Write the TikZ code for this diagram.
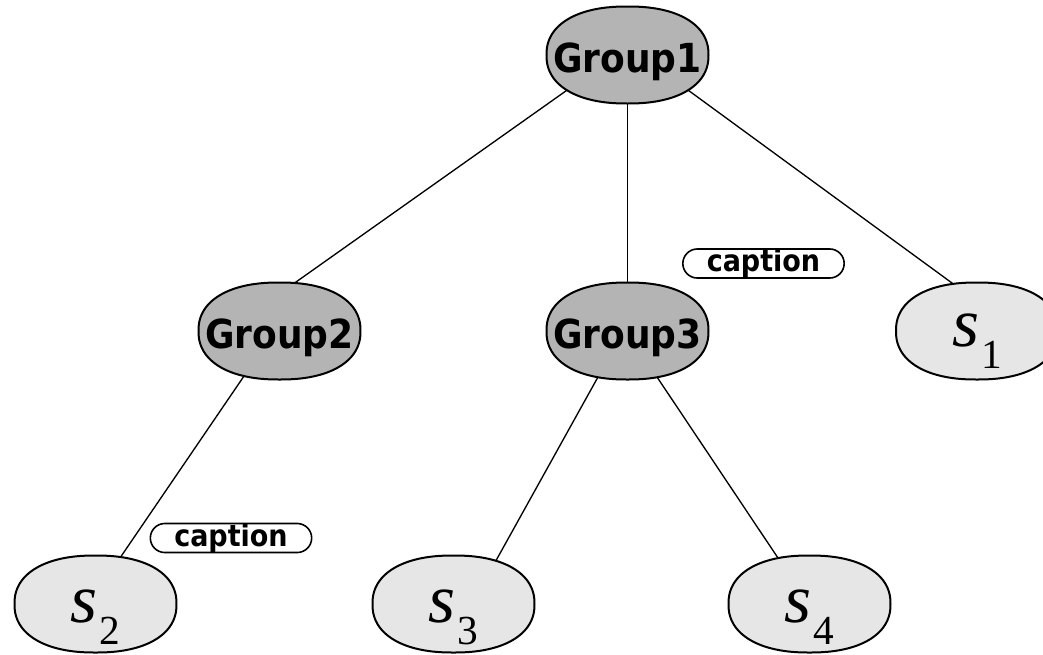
\documentclass[tikz,border=0pt]{standalone}
\usepackage{fontspec}
\setmainfont{Liberation Serif}
\newfontfamily\labelfont{DejaVu Sans Condensed}
\usetikzlibrary{shapes.geometric,shapes.misc}

\definecolor{groupgray}{RGB}{180,180,180}
\definecolor{leafgray}{RGB}{230,230,230}

% rounded (slightly super-elliptic) body drawn around a named node
\newcommand\blobshape[2]{%
  \filldraw[blobline, fill=#2, shift={(#1.center)}]
    plot[smooth cycle, domain=2.5:357.5, samples=72]
    ({81*sign(cos(\x))*abs(cos(\x))^0.88}, {48.5*sign(sin(\x))*abs(sin(\x))^0.88});}

% italic s with a lowered upright index
\newcommand\leaflabel[1]{%
  {\fontsize{52}{52}\selectfont\itshape s}\kern1.5pt%
  \raisebox{-16.5pt}{\fontsize{31}{31}\selectfont #1}}

\begin{document}
\begin{tikzpicture}[x=0.75pt, y=-0.75pt,
  every node/.style={inner sep=0pt, outer sep=0pt},
  treenode/.style={ellipse, minimum width=121pt, minimum height=72pt},
  blobline/.style={draw=black, line width=1.5pt},
  grouptext/.style={anchor=base, font=\labelfont\bfseries\fontsize{30}{30}\selectfont},
  leaftext/.style={anchor=base},
  captionnode/.style={rounded rectangle, draw=black, line width=1.2pt, fill=white,
    minimum width=121pt, minimum height=19.5pt,
    font=\labelfont\bfseries\fontsize{22.5}{22.5}\selectfont},
  link/.style={draw=black, line width=1pt, shorten <=-8pt, shorten >=-8pt}]

  \useasboundingbox (0,0) rectangle (1043,654);
  \fill[white] (0,0) rectangle (1043,654);

  % tree positions
  \node[treenode] (g1) at (627.5,55) {};
  \node[treenode] (g2) at (279.5,331) {};
  \node[treenode] (g3) at (627.5,331) {};
  \node[treenode] (s1) at (977,331) {};
  \node[treenode] (s2) at (95.5,604) {};
  \node[treenode] (s3) at (453.5,604) {};
  \node[treenode] (s4) at (809.5,604) {};

  % connectors
  \draw[link] ([shift={(-64.5,38)}]g1.center) -- ([shift={(16.5,-49)}]g2.center);
  \draw[link] ([shift={(0,48)}]g1.center) -- ([shift={(0,-49)}]g3.center);
  \draw[link] ([shift={(64.5,38)}]g1.center) -- ([shift={(-25,-48)}]s1.center);
  \draw[link] ([shift={(-37.5,48)}]g2.center) -- ([shift={(26.5,-49)}]s2.center);
  \draw[link] ([shift={(-29.5,46)}]g3.center) -- ([shift={(44.5,-47)}]s3.center);
  \draw[link] ([shift={(29.5,46)}]g3.center) -- ([shift={(-31.5,-46)}]s4.center);

  % node bodies
  \blobshape{g1}{groupgray}
  \blobshape{g2}{groupgray}
  \blobshape{g3}{groupgray}
  \blobshape{s1}{leafgray}
  \blobshape{s2}{leafgray}
  \blobshape{s3}{leafgray}
  \blobshape{s4}{leafgray}

  % node texts
  \node[grouptext] (g1t) at ([shift={(0,17)}]g1.center) {Group1};
  \node[grouptext] (g2t) at ([shift={(0,17)}]g2.center) {Group2};
  \node[grouptext] (g3t) at ([shift={(0,17)}]g3.center) {Group3};
  \node[leaftext] (s1t) at ([shift={(0,15)}]s1.center) {\leaflabel{1}};
  \node[leaftext] (s2t) at ([shift={(0,18)}]s2.center) {\leaflabel{2}};
  \node[leaftext] (s3t) at ([shift={(0,18)}]s3.center) {\leaflabel{3}};
  \node[leaftext] (s4t) at ([shift={(0,18)}]s4.center) {\leaflabel{4}};

  % captions
  \node[captionnode] (cap1) at (763.5,263.5) {caption};
  \node[captionnode] (cap2) at (231,538) {caption};
\end{tikzpicture}
\end{document}
